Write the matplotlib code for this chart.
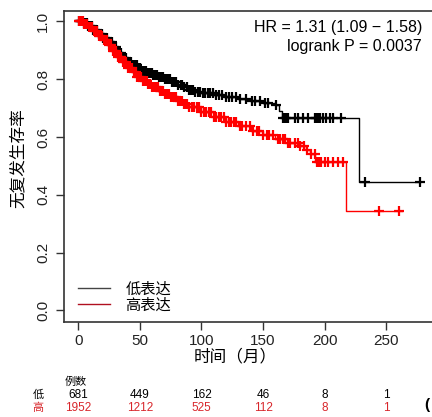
import numpy
import matplotlib
matplotlib.use("Agg")
from matplotlib import pyplot
from matplotlib import transforms

pyplot.rcParams["font.family"] = ["Liberation Sans", "Noto Sans CJK SC", "DejaVu Sans"]

# KM curves (months, survival)
low_t = [0, 4, 8, 12, 16, 20, 24, 28, 32, 36, 40, 44, 48, 52, 56, 60, 65, 70, 75,
         80, 85, 90, 95, 100, 110, 120, 130, 140, 150, 160, 163, 165, 228]
low_s = [1.0, 0.993, 0.983, 0.970, 0.957, 0.944, 0.930, 0.912, 0.892, 0.873, 0.860,
         0.848, 0.837, 0.828, 0.821, 0.815, 0.808, 0.800, 0.791, 0.781, 0.772, 0.764,
         0.757, 0.752, 0.745, 0.738, 0.731, 0.725, 0.719, 0.711, 0.690, 0.664, 0.445]
low_end = 277

high_t = [0, 4, 8, 12, 16, 20, 24, 28, 32, 36, 40, 44, 48, 52, 56, 60, 65, 70, 75,
          80, 85, 90, 100, 110, 120, 130, 140, 150, 160, 170, 180, 185, 188, 192, 217]
high_s = [1.0, 0.992, 0.980, 0.966, 0.950, 0.934, 0.918, 0.898, 0.877, 0.858, 0.840,
          0.824, 0.808, 0.795, 0.784, 0.773, 0.760, 0.748, 0.737, 0.726, 0.715, 0.705,
          0.688, 0.668, 0.652, 0.637, 0.622, 0.607, 0.592, 0.580, 0.569, 0.555, 0.540,
          0.514, 0.343]
high_end = 263

# censoring times
low_cens = [0.5, 1.2, 2, 3, 4.5, 5.5, 7, 8, 9.5, 11, 12, 13.5, 15, 16.5, 18, 19, 20.5,
            22, 23.5, 25, 26, 27.5, 29, 30.5, 32, 33, 34.5, 36, 37.5, 39, 40.5, 42, 43,
            44.5, 46, 47.5, 49, 50.5, 52, 53.5, 55, 56.5, 58, 59.5, 61, 62.5, 64, 65.5,
            67, 68.5, 70, 71.5, 73, 74.5, 76, 78, 79.5, 81, 83, 84.5, 86, 88, 90, 91.5,
            93, 95, 97, 99, 101, 103, 105.5, 107, 109, 112, 114, 117, 120, 122, 125, 128,
            131, 136.5, 140.6, 143.3, 147.4, 151.4, 154, 160.8, 166.2, 167.5, 168.9,
            170.2, 175.6, 178.3, 182.4, 186.4, 191.9, 193.2, 194.6, 195.9, 198.6, 201.3,
            204, 206.7, 213.5, 233, 277]
high_cens = [0.5, 1.5, 2.5, 3.5, 5, 6, 7.5, 9, 10, 11.5, 13, 14, 15.5, 17, 18, 19.5, 21,
             22, 23.5, 25, 26.5, 28, 29, 30.5, 32, 33.5, 35, 36, 37.5, 39, 40.5, 42, 43.5,
             45, 46.5, 48, 49.5, 51, 52.5, 54, 55.5, 57, 58.5, 60, 61.5, 63, 64.5, 66,
             67.5, 69, 70.5, 72, 73.5, 75, 76.5, 78, 79.5, 81, 82.5, 84, 85.5, 87, 88.5,
             90, 92, 94, 96, 98, 100, 102, 104, 106, 108, 110, 112, 114, 116, 118, 120,
             122, 124, 126, 128, 131, 133, 136, 139, 142, 145, 147, 150, 153, 155, 158,
             162, 164, 166, 168, 170, 172, 176, 178, 180, 183, 186, 189, 191.9, 193.7,
             195.4, 197.3, 200, 202.7, 206.7, 210.8, 214.8, 244, 260]

# numbers at risk
risk_times = [0, 50, 100, 150, 200, 250]
risk_low = [681, 449, 162, 46, 8, 1]
risk_high = [1952, 1212, 525, 112, 8, 1]

red = "#ff0000"
red_txt = "#d8262b"

fig = pyplot.figure(figsize=(4.32, 4.17), dpi=100)
ax = fig.add_axes([0.148, 0.228, 0.8935, 0.7458])


def km(ax, t, s, end, cens, color, label):
    t = numpy.asarray(t, dtype=float)
    s = numpy.asarray(s, dtype=float)
    tt = numpy.append(t, end)
    ss = numpy.append(s, s[-1])
    ax.step(tt, ss, where="post", color=color, lw=1.0, label=label)
    c = numpy.asarray(cens, dtype=float)
    cy = s[numpy.searchsorted(t, c, side="right") - 1]
    ax.plot(c, cy, ls="none", marker="+", ms=6.5, mew=1.6, color=color)


km(ax, low_t, low_s, low_end, low_cens, "black", "低表达")
km(ax, high_t, high_s, high_end, high_cens, red, "高表达")

ax.set_xlim(-11.6, 301.6)
ax.set_ylim(-0.04, 1.036)
ax.set_xticks(risk_times)
ax.set_yticks([0.0, 0.2, 0.4, 0.6, 0.8, 1.0])
ax.set_yticklabels(["0.0", "0.2", "0.4", "0.6", "0.8", "1.0"])
ax.tick_params(axis="both", length=6, width=1.0, color="#333333", labelsize=11,
               labelcolor="#222222")
ax.tick_params(axis="x", pad=3)
ax.tick_params(axis="y", pad=4)
for lab in ax.get_yticklabels():
    lab.set_rotation(90)
    lab.set_va("center")
    lab.set_ha("right")
for sp in ax.spines.values():
    sp.set_linewidth(1.2)
    sp.set_color("#333333")

leg = ax.legend(loc="lower left", bbox_to_anchor=(0.036, 0.03), frameon=False,
                fontsize=11, handlelength=2.1, handletextpad=1.0, labelspacing=0.1,
                borderpad=0, borderaxespad=0)
leg.get_lines()[0].set_color("#444444")
leg.get_lines()[1].set_color("#b01020")

fig.text(0.042, 0.622, "无复发生存率", rotation=90, fontsize=12, ha="center", va="center")
fig.text(0.545, 0.144, "时间（月）", fontsize=12, ha="center", va="center")

fig.text(0.977, 0.933, "HR = 1.31 (1.09 \u2212 1.58)", fontsize=11.5, ha="right", va="center")
fig.text(0.977, 0.889, "logrank P = 0.0037", fontsize=11.5, ha="right", va="center")

# numbers at risk table
trans = transforms.blended_transform_factory(ax.transData, fig.transFigure)
fig.text(0.176, 0.084, "例数", fontsize=8, ha="center", va="center")
fig.text(0.088, 0.053, "低", fontsize=8, ha="center", va="center")
fig.text(0.088, 0.022, "高", fontsize=8, ha="center", va="center", color=red_txt)
for t, nl, nh in zip(risk_times, risk_low, risk_high):
    ax.text(t, 0.053, str(nl), transform=trans, fontsize=8.5, ha="center", va="center",
            clip_on=False)
    ax.text(t, 0.022, str(nh), transform=trans, fontsize=8.5, ha="center", va="center",
            color=red_txt, clip_on=False)

fig.text(0.982, 0.028, "(", fontsize=11, fontweight="bold", ha="left", va="center")

fig.savefig("out.png", dpi=100)
